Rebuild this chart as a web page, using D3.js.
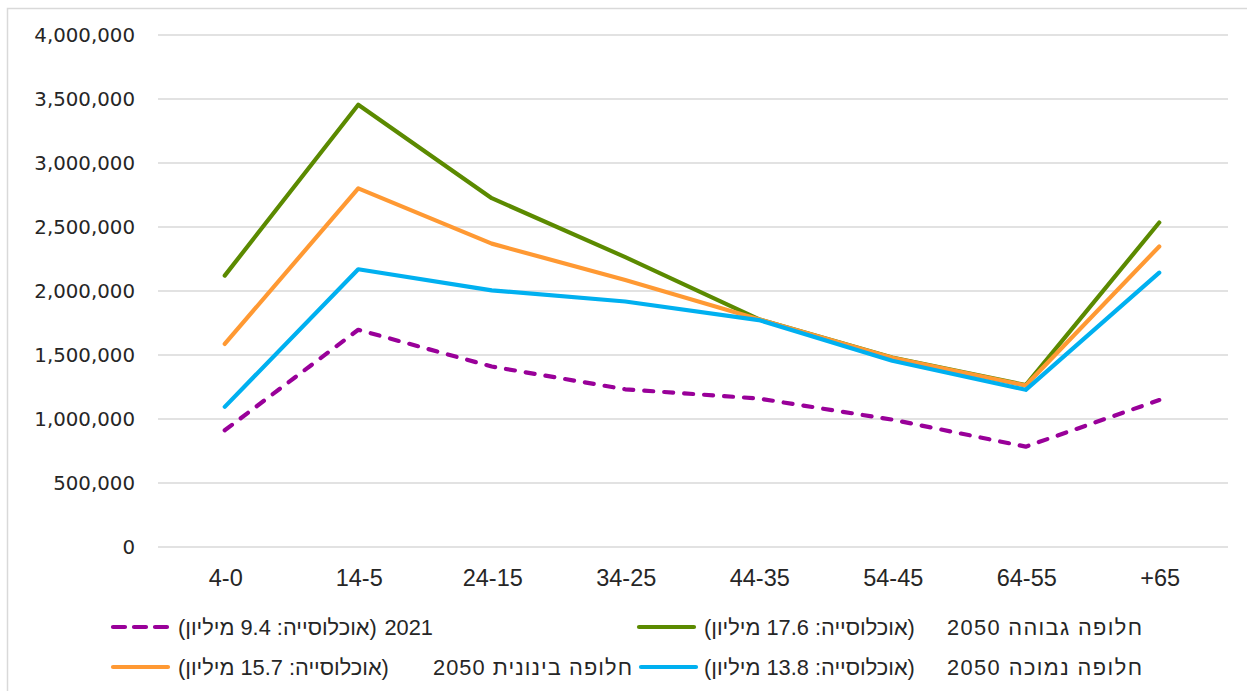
<!DOCTYPE html>
<html>
<head>
<meta charset="utf-8">
<script src="https://cdn.jsdelivr.net/npm/d3@7"></script>
<style>
  html, body { margin: 0; padding: 0; background: #fff; }
  svg { display: block; }
</style>
</head>
<body>
<svg id="chart" width="1247" height="691"></svg>
<script>
// ---- data ----
const categories = ["4-0", "14-5", "24-15", "34-25", "44-35", "54-45", "64-55", "+65"];
const yTicks = [0, 500000, 1000000, 1500000, 2000000, 2500000, 3000000, 3500000, 4000000];

const values2021 = [912000, 1697000, 1410000, 1232000, 1160000, 995000, 784000, 1148000];
const valuesHigh = [2120000, 3455000, 2725000, 2265000, 1780000, 1480000, 1265000, 2535000];
const valuesMid  = [1586000, 2802000, 2370000, 2086000, 1780000, 1478000, 1262000, 2348000];
const valuesLow  = [1095000, 2170000, 2005000, 1918000, 1773000, 1455000, 1228000, 2143000];

// legend labels: [scenario label, population note]
const labels2021 = ["2021", "(אוכלוסייה: 9.4 מיליון)"];
const labelsHigh = ["חלופה גבוהה 2050", "(אוכלוסייה: 17.6 מיליון)"];
const labelsMid  = ["חלופה בינונית 2050", "(אוכלוסייה: 15.7 מיליון)"];
const labelsLow  = ["חלופה נמוכה 2050", "(אוכלוסייה: 13.8 מיליון)"];

const series = [
  { labels: labelsHigh, values: valuesHigh, color: "#5B8A00", dash: null },
  { labels: labelsMid,  values: valuesMid,  color: "#FF9933", dash: null },
  { labels: labelsLow,  values: valuesLow,  color: "#00B0F0", dash: null },
  { labels: labels2021, values: values2021, color: "#990099", dash: "9,11" }
];

// ---- layout ----
const svg = d3.select("#chart");
const plotLeft = 158, plotRight = 1226, plotTop = 35, plotBottom = 547;

svg.append("rect")
  .attr("x", 7.5).attr("y", 8.5)
  .attr("width", 1260).attr("height", 700)
  .attr("fill", "none").attr("stroke", "#d9d9d9").attr("stroke-width", 1.5);

const x = d3.scaleBand().domain(categories).range([plotLeft, plotRight]).padding(0);
const y = d3.scaleLinear().domain([0, 4000000]).range([plotBottom, plotTop]);

// gridlines
svg.append("g")
  .selectAll("line")
  .data(yTicks)
  .join("line")
  .attr("x1", plotLeft).attr("x2", 1228)
  .attr("y1", d => y(d)).attr("y2", d => y(d))
  .attr("stroke", "#d9d9d9").attr("stroke-width", 1.5);

// y axis labels
const fmt = d3.format(",");
const yAxis = d3.axisLeft(y).tickValues(yTicks).tickFormat(d => fmt(d)).tickSize(0).tickPadding(0);
const gy = svg.append("g").attr("transform", "translate(135,0)").call(yAxis);
gy.select(".domain").remove();
gy.selectAll("text")
  .attr("font-family", "'DejaVu Sans', Verdana, sans-serif")
  .attr("font-size", "19.8px")
  .attr("fill", "#262626");

// x axis labels
const xAxis = d3.axisBottom(x).tickSize(0).tickPadding(0);
const gx = svg.append("g").attr("transform", `translate(1,${plotBottom})`).call(xAxis);
gx.select(".domain").remove();
gx.selectAll("text")
  .attr("y", 39)
  .attr("dy", 0)
  .attr("font-family", "'Liberation Sans', Arial, sans-serif")
  .attr("font-size", "23.5px")
  .attr("fill", "#262626");

// lines
const line = d3.line()
  .x((d, i) => x(categories[i]) + x.bandwidth() / 2)
  .y(d => y(d));

svg.append("g")
  .selectAll("path")
  .data(series)
  .join("path")
  .attr("d", d => line(d.values))
  .attr("fill", "none")
  .attr("stroke", d => d.color)
  .attr("stroke-width", 4.2)
  .attr("stroke-linecap", "round")
  .attr("stroke-linejoin", "round")
  .attr("stroke-dasharray", d => d.dash);

// legend
const legendItems = [
  { s: series[3], lx: 113, ty: 627, noteX: 178, labelRight: 433, labelLen: null },
  { s: series[0], lx: 639, ty: 627, noteX: 704, labelRight: 1142, labelLen: 195 },
  { s: series[1], lx: 113, ty: 667, noteX: 178, labelRight: 632, labelLen: 199 },
  { s: series[2], lx: 641, ty: 667, noteX: 704, labelRight: 1142, labelLen: 195 }
];
const textStyle = sel => sel
  .attr("direction", "rtl")
  .attr("font-family", "'Liberation Sans', Arial, sans-serif")
  .attr("font-size", "21.8px")
  .attr("fill", "#262626");

const lg = svg.append("g");
legendItems.forEach(it => {
  lg.append("line")
    .attr("x1", it.lx).attr("x2", it.lx + 55)
    .attr("y1", it.ty).attr("y2", it.ty)
    .attr("stroke", it.s.color)
    .attr("stroke-width", 4.2)
    .attr("stroke-linecap", "round")
    .attr("stroke-dasharray", it.s.dash ? "12,9" : null);
  // population note, left aligned after the symbol
  lg.append("text")
    .attr("x", it.noteX)
    .attr("y", it.ty + 7.5)
    .attr("text-anchor", "end")
    .call(textStyle)
    .text(it.s.labels[1]);
  // scenario label, right aligned
  const t = lg.append("text")
    .attr("x", it.labelRight)
    .attr("y", it.ty + 7.5)
    .attr("text-anchor", "start")
    .call(textStyle)
    .text(it.s.labels[0]);
  if (it.labelLen) t.attr("textLength", it.labelLen).attr("lengthAdjust", "spacing");
});
</script>
</body>
</html>
